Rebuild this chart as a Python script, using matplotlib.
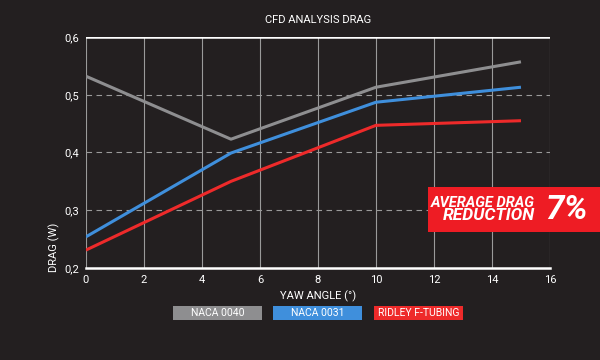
import matplotlib
matplotlib.use("Agg")
import matplotlib.pyplot as plt
from matplotlib.patches import Rectangle

# datos
yaw = [0, 5, 10, 15]
naca_0040 = [0.532, 0.423, 0.513, 0.557]
naca_0031 = [0.254, 0.399, 0.487, 0.513]
ridley = [0.231, 0.350, 0.447, 0.455]

series_names = ["NACA 0040", "NACA 0031", "RIDLEY F-TUBING"]
series_colors = ["#8e8e90", "#3f8fdc", "#ee2a2a"]

xticks = [0, 2, 4, 6, 8, 10, 12, 14, 16]
yticks = [0.2, 0.3, 0.4, 0.5, 0.6]
ytick_labels = ["0,2", "0,3", "0,4", "0,5", "0,6"]

bg = "#231f20"
plt.rcParams['font.family'] = ['Roboto', 'DejaVu Sans']

fig = plt.figure(figsize=(6, 3.6), dpi=100, facecolor=bg)
ax = fig.add_axes([0.1433, 0.2556, 0.7733, 0.6417])
ax.set_facecolor(bg)

ax.set_xlim(0, 16)
ax.set_ylim(0.2, 0.6)

# rejilla
for x in xticks:
    ax.axvline(x, color="#9a9a9a", lw=0.8, zorder=1)
for y in yticks[1:-1]:
    ax.axhline(y, color="#9a9a9a", lw=0.8, ls=(0, (5, 4)), zorder=1)
ax.axhline(0.6, color="white", lw=1.8, zorder=2)

for spine in ["left", "right", "top"]:
    ax.spines[spine].set_visible(False)
ax.spines["bottom"].set_color("white")
ax.spines["bottom"].set_linewidth(1.8)

for vals, col in zip([naca_0040, naca_0031, ridley], series_colors):
    ax.plot(yaw, vals, color=col, lw=2.2, zorder=3, solid_capstyle="butt")

ax.set_xticks(xticks)
ax.set_xticklabels([str(x) for x in xticks])
ax.set_yticks(yticks)
ax.set_yticklabels(ytick_labels)
ax.tick_params(colors="white", labelsize=8, length=0, pad=5)
ax.set_xlabel("YAW ANGLE (°)", color="white", fontsize=8, labelpad=4)
ax.set_ylabel("DRAG (W)", color="white", fontsize=8, labelpad=4)
ax.yaxis.set_label_coords(-0.055, 0.09)
ax.set_title("CFD ANALYSIS DRAG", color="white", fontsize=8, pad=10)

# leyenda como cajas de color
box_x = [173, 273, 374]
for bx, name, col in zip(box_x, series_names, series_colors):
    fig.patches.append(Rectangle((bx / 600, 1 - 320 / 360), 89 / 600, 14 / 360,
                                 transform=fig.transFigure, facecolor=col, edgecolor="none"))
    fig.text((bx + 44.5) / 600, 1 - 313 / 360, name, color="white", fontsize=7.5,
             ha="center", va="center")

# recuadro rojo
fig.patches.append(Rectangle((428 / 600, 1 - 232 / 360), 172 / 600, 45 / 360,
                             transform=fig.transFigure, facecolor="#ee1c24", edgecolor="none"))
fig.text(535 / 600, 1 - 203 / 360, "AVERAGE DRAG", color="white", fontsize=10.5,
         fontweight="bold", style="italic", ha="right", va="center")
fig.text(535 / 600, 1 - 216 / 360, "REDUCTION", color="white", fontsize=12.5,
         fontweight="bold", style="italic", ha="right", va="center")
fig.text(566 / 600, 1 - 210 / 360, "7%", color="white", fontsize=24,
         fontweight="bold", style="italic", ha="center", va="center")

fig.savefig("out.png", dpi=100, facecolor=bg)
